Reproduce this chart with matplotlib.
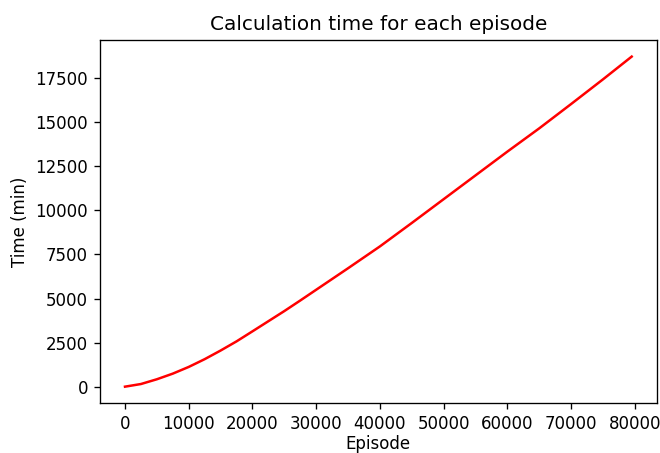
import numpy as np
import matplotlib
matplotlib.use('Agg')
import matplotlib.pyplot as plt

# Données
episode = [0, 2500, 5000, 7500, 10000, 12500, 15000, 17500, 20000, 25000,
           27500, 30000, 35000, 40000, 45000, 50000, 55000, 60000, 65000,
           70000, 75000, 79500]
temps = [0, 150, 420, 740, 1120, 1560, 2050, 2570, 3140, 4290,
         4890, 5500, 6720, 7960, 9290, 10640, 11990, 13340, 14660,
         16040, 17440, 18730]

# Image d'origine : rendu à 72 dpi agrandi, donc dpi ~120 ici
dpi = 120
fig = plt.figure(figsize=(660 / dpi, 453 / dpi), dpi=dpi)
ax = fig.add_axes([0.151, 0.110, 0.8445, 0.8015])

ax.plot(episode, temps, color='red')

ax.set_title('Calculation time for each episode')
ax.set_xlabel('Episode', labelpad=1)
ax.set_ylabel('Time (min)')

fig.savefig('out.png', dpi=dpi)
